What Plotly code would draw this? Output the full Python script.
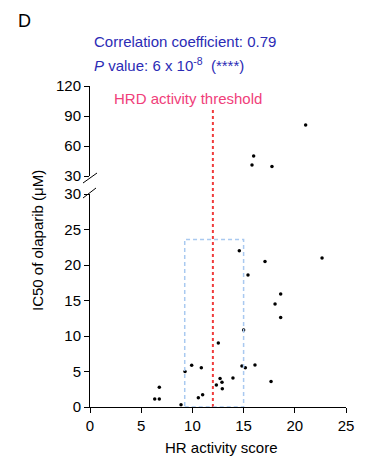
import plotly.graph_objects as go

# ---- data ----
hr_score_low = [14.58, 15.43, 17.09, 22.66, 18.62, 18.07, 18.62, 15.0, 12.53, 9.28,
                9.93, 10.87, 6.77, 6.32, 6.77, 8.89, 10.58, 11.0, 12.34, 12.7,
                12.89, 12.92, 13.96, 14.84, 15.17, 16.11, 17.68]
ic50_low = [22.0, 18.6, 20.5, 21.0, 15.9, 14.5, 12.6, 10.85, 9.0, 5.0,
            5.87, 5.54, 2.77, 1.13, 1.13, 0.33, 1.31, 1.74, 3.1, 4.0,
            3.47, 2.58, 4.08, 5.77, 5.54, 5.92, 3.6]
hr_score_high = [21.06, 15.98, 15.82, 17.77]
ic50_high = [81, 50, 41, 39.5]

x_ticks = [0, 5, 10, 15, 20, 25]
y_ticks_low = [0, 5, 10, 15, 20, 25, 30]
y_ticks_high = [30, 60, 90, 120]
threshold = 12
box_x = [9.25, 15.0]
box_y = [0, 23.6]

FONT = "Liberation Sans, Arial, sans-serif"
OFF = 8  # page body margin
W, H = 366 - OFF, 472 - OFF
L, R, T, B = 90 - OFF, 20, 86 - OFF, 65
PW, PH = W - L - R, H - T - B


def px_x(p):
    return (p - OFF - L) / PW


def px_y(p):
    return (H - B - (p - OFF)) / PH


fig = go.Figure()
fig.add_trace(go.Scatter(x=hr_score_low, y=ic50_low, mode="markers",
                         marker=dict(color="black", size=3.5), xaxis="x", yaxis="y",
                         showlegend=False))
fig.add_trace(go.Scatter(x=hr_score_high, y=ic50_high, mode="markers",
                         marker=dict(color="black", size=3.5), xaxis="x", yaxis="y2",
                         showlegend=False))

axis_common = dict(showline=True, linecolor="black", linewidth=1, ticks="outside",
                   ticklen=5, tickcolor="black", tickwidth=1, showgrid=False,
                   zeroline=False, tickfont=dict(family=FONT, size=15, color="black"),
                   automargin=False)

fig.update_layout(
    width=W, height=H,
    margin=dict(l=L, r=R, t=T, b=B),
    plot_bgcolor="white", paper_bgcolor="white",
    xaxis=dict(range=[0, 25], tickvals=x_ticks, anchor="y", **axis_common),
    yaxis=dict(range=[0, 30], tickvals=y_ticks_low, domain=[0, px_y(194)],
               anchor="x", **axis_common),
    yaxis2=dict(range=[30, 120], tickvals=y_ticks_high, domain=[px_y(176), 1],
                anchor="x", **axis_common),
)

shapes = []
# HRD threshold line
shapes.append(dict(type="line", xref="x", yref="paper", x0=threshold, x1=threshold,
                   y0=0, y1=px_y(110), line=dict(color="#f03c3c", width=2, dash="dot")))
# dashed blue box
shapes.append(dict(type="rect", xref="x", yref="y", x0=box_x[0], x1=box_x[1],
                   y0=box_y[0], y1=box_y[1],
                   line=dict(color="#a9c9f0", width=1.5, dash="4px,3px")))
# axis break slashes
for (a, b, c, d) in [(83, 183, 97, 173), (83, 198, 96, 188)]:
    shapes.append(dict(type="line", xref="paper", yref="paper",
                       x0=px_x(a), y0=px_y(b), x1=px_x(c), y1=px_y(d),
                       line=dict(color="black", width=1)))
fig.update_layout(shapes=shapes)

ann = []
ann.append(dict(text="D", xref="paper", yref="paper", x=px_x(16), y=px_y(21),
                xanchor="left", yanchor="middle", showarrow=False,
                font=dict(family=FONT, size=18, color="black")))
ann.append(dict(text="Correlation coefficient: 0.79", xref="paper", yref="paper",
                x=px_x(92), y=px_y(42), xanchor="left", yanchor="middle",
                showarrow=False, font=dict(family=FONT, size=15, color="#2b2bb5")))
ann.append(dict(text="<i>P</i> value: 6 x 10<sup>-8</sup>&nbsp;&nbsp;(****)",
                xref="paper", yref="paper",
                x=px_x(92), y=px_y(64), xanchor="left", yanchor="middle",
                showarrow=False, font=dict(family=FONT, size=15, color="#2b2bb5")))
ann.append(dict(text="HRD activity threshold", xref="paper", yref="paper",
                x=px_x(188), y=px_y(98), xanchor="center", yanchor="middle",
                showarrow=False, font=dict(family=FONT, size=15, color="#f0407a")))
ann.append(dict(text="HR activity score", xref="paper", yref="paper",
                x=px_x(221), y=px_y(447), xanchor="center", yanchor="middle",
                showarrow=False, font=dict(family=FONT, size=15, color="black")))
ann.append(dict(text="IC50 of olaparib (μM)", xref="paper", yref="paper",
                x=px_x(37), y=px_y(241), xanchor="center", yanchor="middle",
                textangle=-90, showarrow=False,
                font=dict(family=FONT, size=15, color="black")))
fig.update_layout(annotations=ann)

fig.write_html("out.html")
